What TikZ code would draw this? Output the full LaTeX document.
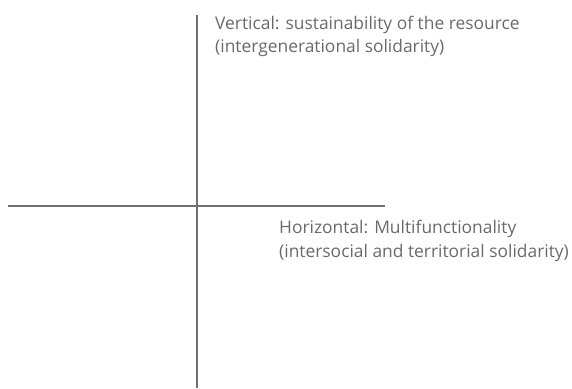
\documentclass[tikz,border=0pt]{standalone}
\usepackage{fontspec}
\setmainfont{Open Sans}
\definecolor{axisgray}{HTML}{707070}
\definecolor{textgray}{HTML}{6A6A6A}
\tikzset{
  axis/.style={draw=axisgray,line width=1.6pt},
  caption/.style={text=textgray,align=left,inner sep=0pt,anchor=base west,
    font=\fontsize{17.4}{23.5}\selectfont}
}
\begin{document}
\begin{tikzpicture}[x=1pt,y=-1pt]
      \useasboundingbox (0,0) rectangle (572,388);
      \coordinate (vtop) at (197,15);
      \coordinate (vbot) at (197,388);
      \coordinate (hleft) at (8,206);
      \coordinate (hright) at (385,206);
      \draw[axis] (vtop) -- (vbot);
      \draw[axis] (hleft) -- (hright);
      \node[caption] (vertical) at (215,52.5) {Vertical: sustainability of the resource\\(intergenerational solidarity)};
      \node[caption] (horizontal) at (279,257) {Horizontal: Multifunctionality\\(intersocial and territorial solidarity)};
    \end{tikzpicture}
\end{document}
